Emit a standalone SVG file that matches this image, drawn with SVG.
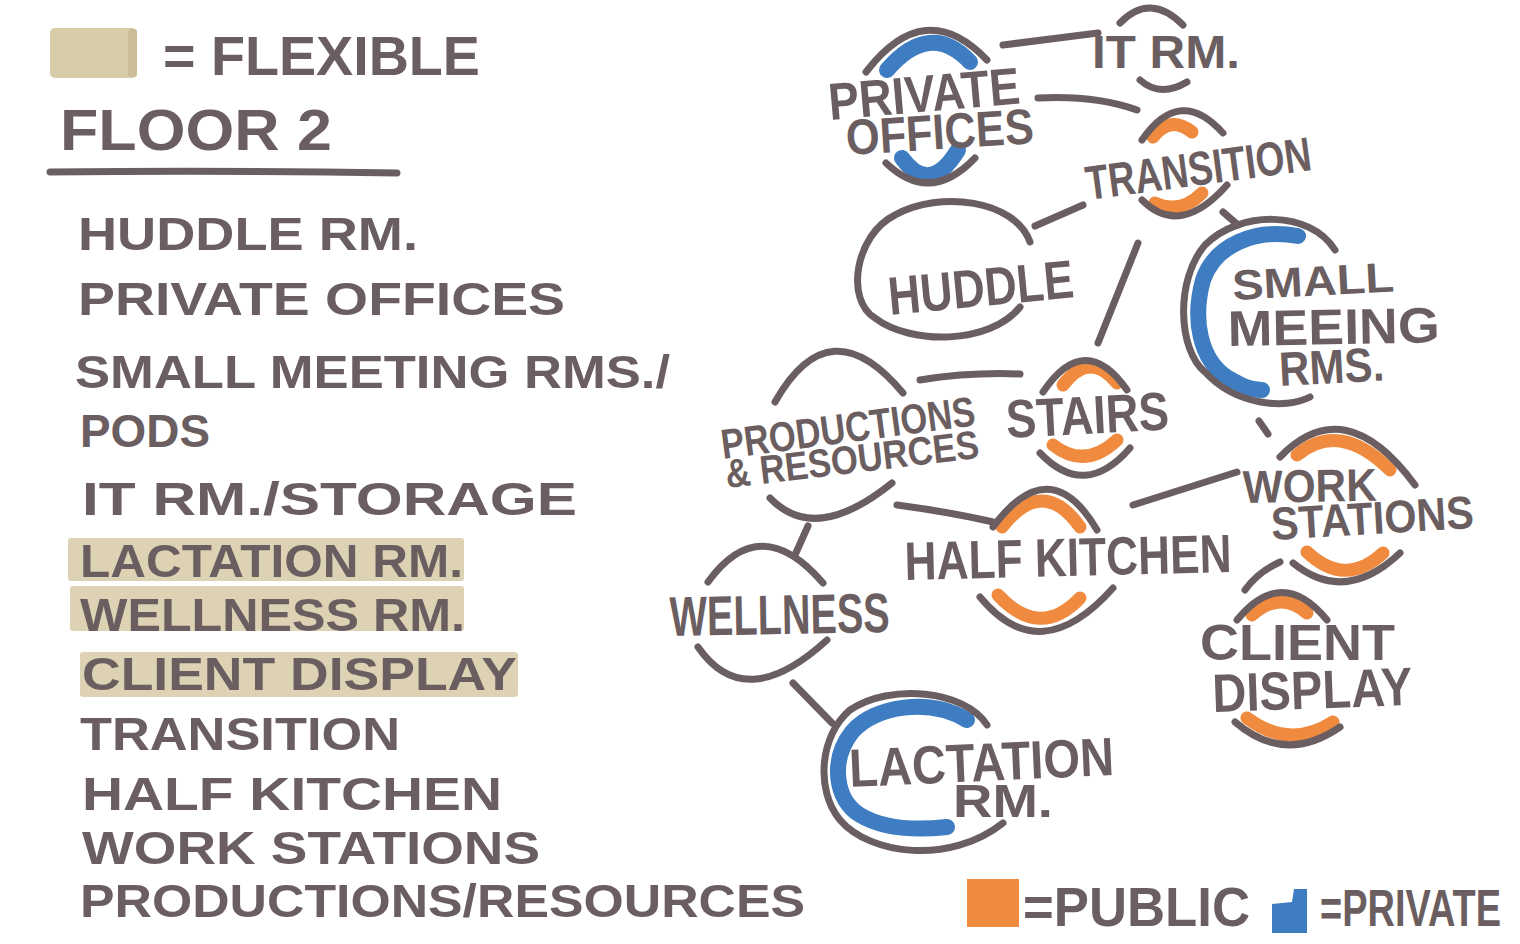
<svg xmlns="http://www.w3.org/2000/svg" width="1520" height="944" viewBox="0 0 1520 944">
<style>
  .t{font-family:"Liberation Sans",Arial,sans-serif;font-weight:bold;fill:#6b5e60;}
  .l{font-size:47px;}
  .g{fill:none;stroke:#6b5e60;stroke-width:7;stroke-linecap:round;stroke-linejoin:round;}
  .o{fill:none;stroke:#f08a3e;stroke-width:13;stroke-linecap:round;stroke-linejoin:round;}
  .b{fill:none;stroke:#3f7dc2;stroke-width:16;stroke-linecap:round;stroke-linejoin:round;}
  .hl{fill:#ddd2b3;}
</style>
<rect x="0" y="0" width="1520" height="944" fill="#ffffff"/>

<g id="header">
  <rect x="50" y="28" width="87" height="50" rx="5" fill="#d8cca9"/>
  <rect x="128" y="29" width="9" height="48" rx="3" fill="#cbbd98"/>
  <text class="t" x="163" y="75" font-size="55" textLength="317" lengthAdjust="spacingAndGlyphs">= FLEXIBLE</text>
  <text class="t" x="60" y="150" font-size="58" textLength="272" lengthAdjust="spacingAndGlyphs">FLOOR 2</text>
  <path class="g" d="M50 172 Q220 170 397 173"/>
</g>

<g id="list">
  <rect class="hl" x="68" y="538" width="396" height="43" rx="3"/>
  <rect class="hl" x="70" y="586" width="394" height="45" rx="3"/>
  <rect class="hl" x="80" y="652" width="438" height="45" rx="3"/>
  <text class="t l" x="78" y="250" textLength="340" lengthAdjust="spacingAndGlyphs">HUDDLE RM.</text>
  <text class="t l" x="78" y="315" textLength="487" lengthAdjust="spacingAndGlyphs">PRIVATE OFFICES</text>
  <text class="t l" x="75" y="388" textLength="595" lengthAdjust="spacingAndGlyphs">SMALL MEETING RMS./</text>
  <text class="t l" x="80" y="447" textLength="130" lengthAdjust="spacingAndGlyphs">PODS</text>
  <text class="t l" x="82" y="515" textLength="495" lengthAdjust="spacingAndGlyphs">IT RM./STORAGE</text>
  <text class="t l" x="80" y="577" textLength="383" lengthAdjust="spacingAndGlyphs">LACTATION RM.</text>
  <text class="t l" x="80" y="631" textLength="385" lengthAdjust="spacingAndGlyphs">WELLNESS RM.</text>
  <text class="t l" x="82" y="690" textLength="435" lengthAdjust="spacingAndGlyphs">CLIENT DISPLAY</text>
  <text class="t l" x="80" y="750" textLength="320" lengthAdjust="spacingAndGlyphs">TRANSITION</text>
  <text class="t l" x="82" y="810" textLength="420" lengthAdjust="spacingAndGlyphs">HALF KITCHEN</text>
  <text class="t l" x="82" y="864" textLength="458" lengthAdjust="spacingAndGlyphs">WORK STATIONS</text>
  <text class="t l" x="80" y="917" textLength="725" lengthAdjust="spacingAndGlyphs">PRODUCTIONS/RESOURCES</text>
</g>

<g id="connectors">
  <path class="g" d="M1003 45 L1098 33"/>
  <path class="g" d="M1038 98 Q1095 95 1137 110"/>
  <path class="g" d="M1035 226 L1083 205"/>
  <path class="g" d="M1223 212 L1238 225"/>
  <path class="g" d="M1138 243 Q1115 300 1098 343"/>
  <path class="g" d="M920 380 Q970 372 1020 374"/>
  <path class="g" d="M897 505 Q950 512 993 522"/>
  <path class="g" d="M808 526 L795 555"/>
  <path class="g" d="M1133 505 L1237 472"/>
  <path class="g" d="M1259 421 L1268 434"/>
  <path class="g" d="M1280 562 Q1258 572 1245 590"/>
  <path class="g" d="M793 683 L832 723"/>
</g>

<g id="private-offices">
  <path class="b" d="M887 70 Q930 20 970 62"/>
  <path class="b" d="M902 158 Q930 196 958 150"/>
  <path class="g" d="M866 72 Q925 -5 987 60"/>
  <path class="g" d="M886 163 Q930 205 975 158"/>
  <text class="t" x="830" y="120" font-size="52" textLength="192" lengthAdjust="spacingAndGlyphs" transform="rotate(-5 830 120)">PRIVATE</text>
  <text class="t" x="847" y="155" font-size="50" textLength="188" lengthAdjust="spacingAndGlyphs" transform="rotate(-3.6 847 155)">OFFICES</text>
</g>

<g id="it-rm">
  <path class="g" d="M1120 23 Q1150 -8 1183 25"/>
  <path class="g" d="M1140 80 Q1160 98 1187 82"/>
  <text class="t" x="1092" y="68" font-size="46" textLength="148" lengthAdjust="spacingAndGlyphs">IT RM.</text>
</g>

<g id="transition">
  <path class="o" d="M1153 137 Q1170 115 1192 132"/>
  <path class="o" d="M1155 203 Q1180 215 1202 193"/>
  <path class="g" d="M1142 140 Q1180 85 1223 133"/>
  <path class="g" d="M1142 200 Q1180 238 1227 185"/>
  <text class="t" x="1088" y="200" font-size="48" textLength="227" lengthAdjust="spacingAndGlyphs" transform="rotate(-7.6 1088 200)">TRANSITION</text>
</g>

<g id="huddle">
  <path class="g" d="M1030 242 C1015 200 940 190 895 215 C855 235 845 300 875 318 C910 345 990 345 1020 307"/>
  <text class="t" x="890" y="315" font-size="54" textLength="186" lengthAdjust="spacingAndGlyphs" transform="rotate(-5.5 890 315)">HUDDLE</text>
</g>

<g id="small-meeting">
  <path class="b" d="M1298 236 C1255 228 1215 245 1203 280 C1192 320 1200 360 1228 378 C1240 385 1250 390 1262 390"/>
  <path class="g" d="M1335 250 C1310 210 1240 210 1205 245 C1175 280 1178 350 1205 372 C1235 405 1285 410 1310 397"/>
  <text class="t" x="1233" y="300" font-size="42" textLength="162" lengthAdjust="spacingAndGlyphs" transform="rotate(-3 1233 300)">SMALL</text>
  <text class="t" x="1228" y="346" font-size="50" textLength="212" lengthAdjust="spacingAndGlyphs" transform="rotate(-1 1228 346)">MEEING</text>
  <text class="t" x="1280" y="386" font-size="48" textLength="105" lengthAdjust="spacingAndGlyphs" transform="rotate(-3 1280 386)">RMS.</text>
</g>

<g id="stairs">
  <path class="o" d="M1063 385 Q1090 350 1117 383"/>
  <path class="o" d="M1053 445 Q1085 470 1117 440"/>
  <path class="g" d="M1043 392 Q1085 330 1127 390"/>
  <path class="g" d="M1040 453 Q1085 500 1130 448"/>
  <text class="t" x="1007" y="438" font-size="54" textLength="163" lengthAdjust="spacingAndGlyphs" transform="rotate(-3 1007 438)">STAIRS</text>
</g>

<g id="productions-resources">
  <path class="g" d="M775 402 Q830 305 903 393"/>
  <path class="g" d="M770 498 Q815 545 892 483"/>
  <text class="t" x="723" y="459" font-size="42" textLength="256" lengthAdjust="spacingAndGlyphs" transform="rotate(-7.6 723 459)">PRODUCTIONS</text>
  <text class="t" x="727" y="488" font-size="40" textLength="255" lengthAdjust="spacingAndGlyphs" transform="rotate(-6.8 727 488)">&amp; RESOURCES</text>
</g>

<g id="half-kitchen">
  <path class="o" d="M1002 527 Q1043 475 1080 527"/>
  <path class="o" d="M998 595 Q1040 640 1080 598"/>
  <path class="g" d="M993 527 Q1050 450 1097 530"/>
  <path class="g" d="M980 597 Q1040 670 1113 588"/>
  <text class="t" x="905" y="580" font-size="54" textLength="327" lengthAdjust="spacingAndGlyphs" transform="rotate(-1.4 905 580)">HALF KITCHEN</text>
</g>

<g id="work-stations">
  <path class="o" d="M1297 455 Q1340 420 1390 470"/>
  <path class="o" d="M1307 552 Q1345 588 1383 553"/>
  <path class="g" d="M1280 457 Q1345 390 1415 485"/>
  <path class="g" d="M1293 563 Q1345 605 1400 553"/>
  <text class="t" x="1243" y="503" font-size="46" textLength="134" lengthAdjust="spacingAndGlyphs" transform="rotate(-1 1243 503)">WORK</text>
  <text class="t" x="1272" y="540" font-size="46" textLength="203" lengthAdjust="spacingAndGlyphs" transform="rotate(-3.4 1272 540)">STATIONS</text>
</g>

<g id="client-display">
  <path class="o" d="M1252 615 Q1280 590 1307 613"/>
  <path class="o" d="M1247 718 Q1290 750 1333 722"/>
  <path class="g" d="M1237 620 Q1282 565 1327 620"/>
  <path class="g" d="M1235 722 Q1285 765 1340 727"/>
  <text class="t" x="1200" y="660" font-size="50" textLength="195" lengthAdjust="spacingAndGlyphs">CLIENT</text>
  <text class="t" x="1213" y="712" font-size="54" textLength="200" lengthAdjust="spacingAndGlyphs" transform="rotate(-2 1213 712)">DISPLAY</text>
</g>

<g id="wellness">
  <path class="g" d="M708 582 Q760 510 823 583"/>
  <path class="g" d="M698 647 Q745 715 827 640"/>
  <text class="t" x="670" y="636" font-size="56" textLength="220" lengthAdjust="spacingAndGlyphs" transform="rotate(-1 670 636)">WELLNESS</text>
</g>

<g id="lactation-rm">
  <path class="b" d="M967 720 C930 698 875 705 852 732 C830 760 835 800 860 815 C885 830 920 830 947 827"/>
  <path class="g" d="M987 725 C965 690 890 683 850 710 C820 735 815 790 840 820 C870 855 950 865 1003 823"/>
  <text class="t" x="850" y="787" font-size="54" textLength="265" lengthAdjust="spacingAndGlyphs" transform="rotate(-2.6 850 787)">LACTATION</text>
  <text class="t" x="953" y="817" font-size="46" textLength="100" lengthAdjust="spacingAndGlyphs">RM.</text>
</g>

<g id="key">
  <rect x="967" y="879" width="52" height="48" fill="#f08a3e"/>
  <text class="t" x="1023" y="926" font-size="56" textLength="227" lengthAdjust="spacingAndGlyphs">=PUBLIC</text>
  <path d="M1272 904 L1292 902 L1294 889 L1307 889 L1307 933 L1272 933 Z" fill="#3f7dc2"/>
  <text class="t" x="0" y="0" font-size="52" transform="translate(1320 926) scale(0.73 1)">=PRIVATE</text>
</g>
</svg>
